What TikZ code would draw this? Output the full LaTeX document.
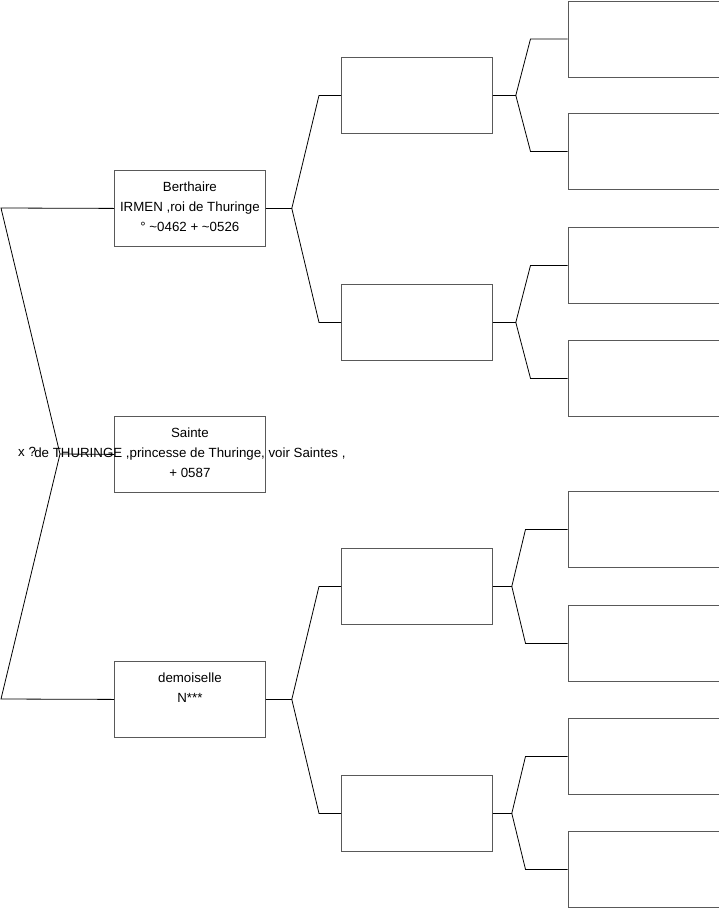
\documentclass[tikz,border=0pt]{standalone}
\usepackage{fontspec}
\setmainfont{Liberation Sans}
\begin{document}
\begin{tikzpicture}[x=1pt,y=-1pt,
  pbox/.style={draw=black!65,line width=0.8pt,minimum width=151pt,minimum height=76pt,inner sep=0pt,anchor=north west},
  ptext/.style={anchor=north,align=center,inner sep=0pt,font=\fontsize{13.3pt}{20pt}\selectfont},
  conn/.style={draw=black,line width=0.8pt}]
\useasboundingbox (0,0) rectangle (719,908);
% level 1
\node[pbox] (a1) at (114,170) {};
\node[pbox] (a2) at (114,416) {};
\node[pbox] (a3) at (114,661) {};
% level 2
\node[pbox] (b1) at (341,57) {};
\node[pbox] (b2) at (341,284) {};
\node[pbox] (b3) at (341,548) {};
\node[pbox] (b4) at (341,775) {};
% level 3
\node[pbox] (c1) at (567.5,0.5) {};
\node[pbox] (c2) at (567.5,113) {};
\node[pbox] (c3) at (567.5,227) {};
\node[pbox] (c4) at (567.5,340) {};
\node[pbox] (c5) at (567.5,491) {};
\node[pbox] (c6) at (567.5,605) {};
\node[pbox] (c7) at (567.5,718) {};
\node[pbox] (c8) at (567.5,831) {};
% texts
\node[ptext] (t1) at ([yshift=-12pt]a1.north) {Berthaire\\IRMEN ,roi de Thuringe\\° \textasciitilde0462 + \textasciitilde0526};
\node[ptext] (t2) at ([yshift=-12pt]a2.north) {Sainte\\de THURINGE ,princesse de Thuringe, voir Saintes ,\\+ 0587};
\node[ptext] (t3) at ([yshift=-12pt]a3.north) {demoiselle\\N***};
\node[ptext,anchor=west] (x) at (18,452) {x ?};
% left connectors
\coordinate (l1) at (1,208);
\coordinate (l3) at (1,699);
\coordinate (lm) at (60,454);
\draw[conn] (a1.west) -- (l1) -- (lm) -- (l3) -- (a3.west);
\draw[conn] (lm) -- (a2.west);
% level 1 -> level 2
\draw[conn] (a1.east) -- ++(26,0) coordinate (f1) -- ([xshift=-22pt]b1.west) -- (b1.west);
\draw[conn] (f1) -- ([xshift=-22pt]b2.west) -- (b2.west);
\draw[conn] (a3.east) -- ++(26,0) coordinate (f3) -- ([xshift=-22pt]b3.west) -- (b3.west);
\draw[conn] (f3) -- ([xshift=-22pt]b4.west) -- (b4.west);
% level 2 -> level 3
\draw[conn] (b1.east) -- ++(23,0) coordinate (g1) -- ([xshift=-37pt]c1.west) -- (c1.west);
\draw[conn] (g1) -- ([xshift=-37pt]c2.west) -- (c2.west);
\draw[conn] (b2.east) -- ++(23,0) coordinate (g2) -- ([xshift=-37pt]c3.west) -- (c3.west);
\draw[conn] (g2) -- ([xshift=-37pt]c4.west) -- (c4.west);
\draw[conn] (b3.east) -- ++(19,0) coordinate (g3) -- ([xshift=-42pt]c5.west) -- (c5.west);
\draw[conn] (g3) -- ([xshift=-42pt]c6.west) -- (c6.west);
\draw[conn] (b4.east) -- ++(19,0) coordinate (g4) -- ([xshift=-42pt]c7.west) -- (c7.west);
\draw[conn] (g4) -- ([xshift=-42pt]c8.west) -- (c8.west);
\end{tikzpicture}
\end{document}
